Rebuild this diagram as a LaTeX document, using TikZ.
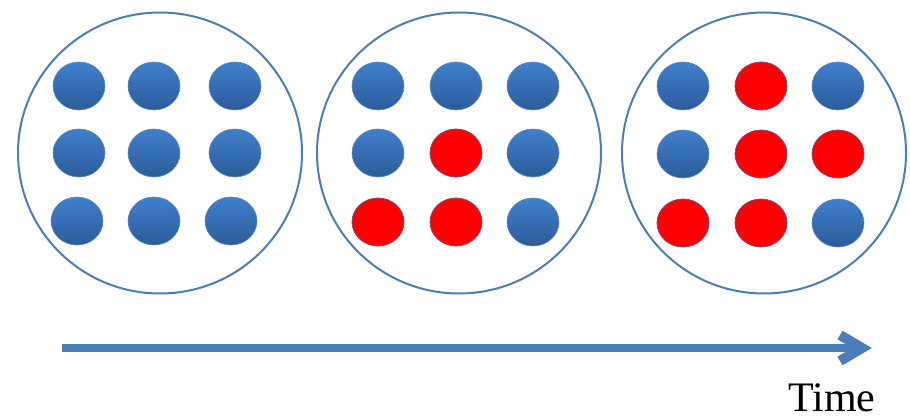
\documentclass[tikz,border=0pt]{standalone}
\usepackage{fontspec}
\setmainfont{Liberation Serif}
\usetikzlibrary{shapes.geometric}
\definecolor{ringblue}{HTML}{4A7EBB}
\definecolor{dottop}{HTML}{3F80CC}
\definecolor{dotbot}{HTML}{2C5C99}
\definecolor{dotedge}{HTML}{5A86BF}
\definecolor{rededge}{HTML}{7A4A80}
\tikzset{
  x=1pt, y=-1pt,
  ring/.style={draw=ringblue, line width=2pt, ellipse, minimum width=284pt, minimum height=281pt, inner sep=0pt},
  bdot/.style={ellipse, minimum width=52pt, minimum height=48pt, inner sep=0pt, draw=dotedge, line width=0.6pt, top color=dottop, bottom color=dotbot},
  rdot/.style={ellipse, minimum width=52pt, minimum height=48pt, inner sep=0pt, draw=rededge, line width=0.8pt, fill=red},
  timeline/.style={draw=ringblue, line width=8.5pt},
  chevron/.style={draw=ringblue, line width=10pt, line join=miter, miter limit=10},
}
\begin{document}
\begin{tikzpicture}
\useasboundingbox (0,0) rectangle (910,419);
\node[ring] (c1) at (160,153) {};
\node[ring] (c2) at (459,153) {};
\node[ring] (c3) at (764,153) {};
% circle 1
\node[bdot] (a11) at (79,86) {};
\node[bdot] (a12) at (154,86) {};
\node[bdot] (a13) at (235,86) {};
\node[bdot] (a21) at (79,153) {};
\node[bdot] (a22) at (154,153) {};
\node[bdot] (a23) at (235,153) {};
\node[bdot] (a31) at (77,221) {};
\node[bdot] (a32) at (154,221) {};
\node[bdot] (a33) at (231,221) {};
% circle 2
\node[bdot] (b11) at (378,86) {};
\node[bdot] (b12) at (456,86) {};
\node[bdot] (b13) at (533,86) {};
\node[bdot] (b21) at (378,153) {};
\node[rdot] (b22) at (456,153) {};
\node[bdot] (b23) at (533,153) {};
\node[rdot] (b31) at (378,222) {};
\node[rdot] (b32) at (456,222) {};
\node[bdot] (b33) at (533,222) {};
% circle 3
\node[bdot] (d11) at (683,86) {};
\node[rdot] (d12) at (761,86) {};
\node[bdot] (d13) at (838,86) {};
\node[bdot] (d21) at (683,154) {};
\node[rdot] (d22) at (761,154) {};
\node[rdot] (d23) at (838,154) {};
\node[rdot] (d31) at (683,223) {};
\node[rdot] (d32) at (761,223) {};
\node[bdot] (d33) at (838,223) {};
% arrow
\coordinate (t0) at (62,348);
\coordinate (t1) at (862,348);
\coordinate (tu) at (840,335);
\coordinate (tl) at (840,361);
\draw[timeline] (t0) -- (t1);
\draw[chevron] (tu) -- (t1) -- (tl);
\node[font=\fontsize{42}{46}\selectfont, anchor=base, inner sep=0pt] (time) at (832,411) {Time};
\end{tikzpicture}
\end{document}
